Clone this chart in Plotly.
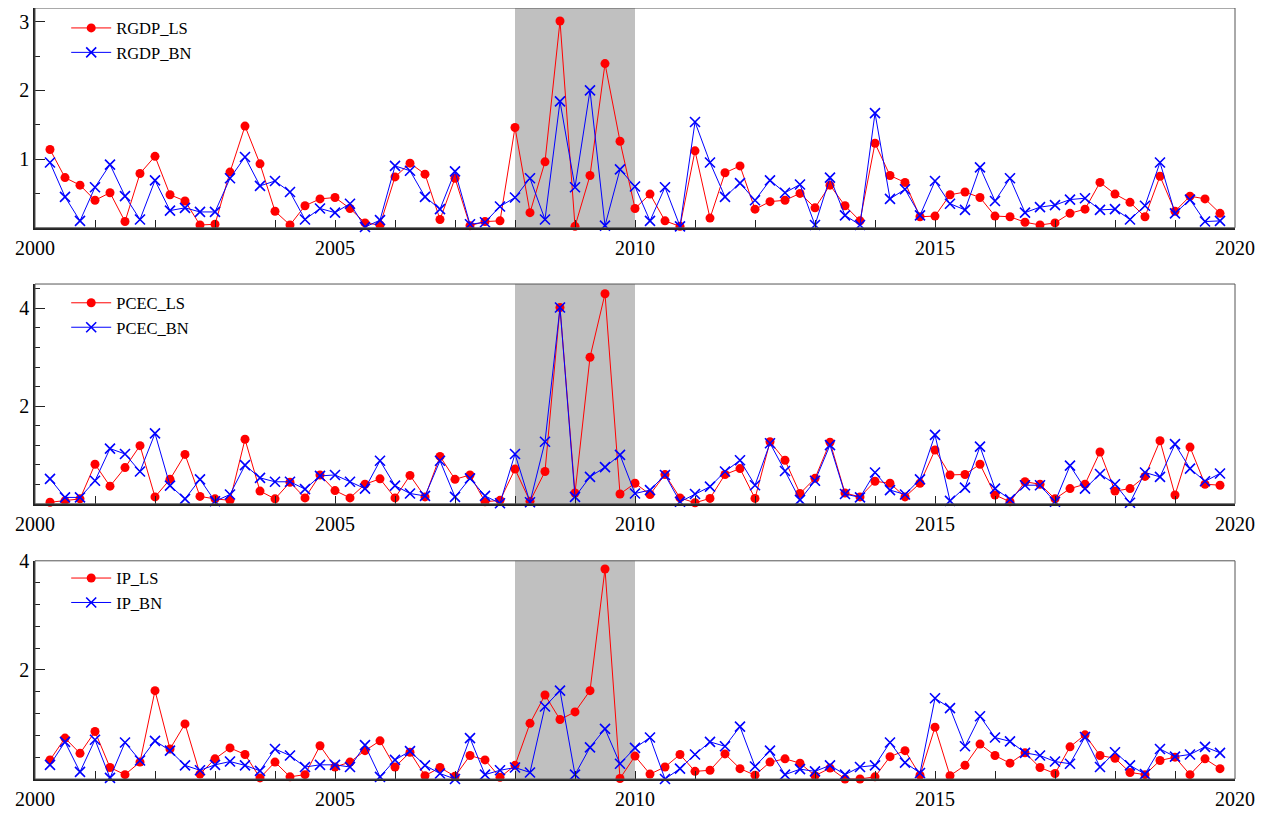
import plotly.graph_objects as go

# Quarterly observations 2000Q2 .. 2019Q4 (decimal-year positions)
quarters = [2000.25 + 0.25 * i for i in range(79)]

RGDP_LS = [1.14,0.73,0.62,0.40,0.51,0.09,0.79,1.04,0.48,0.39,
           0.04,0.05,0.81,1.48,0.93,0.24,0.04,0.32,0.42,0.44,
           0.28,0.07,0.04,0.74,0.94,0.78,0.12,0.72,0.03,0.09,
           0.10,1.46,0.22,0.96,3.01,0.02,0.76,2.39,1.26,0.28,
           0.49,0.10,0.02,1.12,0.14,0.80,0.90,0.27,0.38,0.40,
           0.50,0.29,0.62,0.32,0.10,1.23,0.76,0.66,0.16,0.17,
           0.48,0.52,0.44,0.17,0.16,0.08,0.04,0.07,0.21,0.27,
           0.66,0.49,0.37,0.16,0.75,0.24,0.46,0.42,0.21]
RGDP_BN = [0.95,0.45,0.10,0.59,0.92,0.46,0.12,0.69,0.25,0.29,
           0.23,0.23,0.72,1.03,0.61,0.68,0.52,0.12,0.28,0.22,
           0.35,0.01,0.11,0.90,0.83,0.45,0.27,0.82,0.05,0.08,
           0.31,0.44,0.72,0.12,1.84,0.59,2.00,0.03,0.85,0.60,
           0.10,0.59,0.02,1.54,0.95,0.45,0.65,0.40,0.69,0.51,
           0.63,0.04,0.73,0.18,0.04,1.67,0.42,0.56,0.18,0.68,
           0.35,0.26,0.88,0.39,0.72,0.22,0.30,0.33,0.41,0.43,
           0.26,0.27,0.12,0.32,0.95,0.21,0.41,0.09,0.10]
PCEC_LS = [0.03,0.06,0.10,0.81,0.36,0.74,1.19,0.14,0.50,1.01,
           0.15,0.10,0.07,1.32,0.26,0.10,0.44,0.12,0.59,0.27,
           0.12,0.40,0.51,0.12,0.58,0.14,0.97,0.50,0.59,0.04,
           0.07,0.71,0.05,0.66,4.02,0.22,3.00,4.30,0.20,0.42,
           0.19,0.60,0.12,0.02,0.11,0.60,0.72,0.11,1.27,0.89,
           0.21,0.52,1.26,0.22,0.14,0.46,0.42,0.14,0.42,1.10,
           0.59,0.60,0.81,0.18,0.04,0.45,0.40,0.10,0.31,0.40,
           1.06,0.26,0.31,0.56,1.29,0.18,1.16,0.40,0.38]
PCEC_BN = [0.51,0.13,0.13,0.47,1.13,1.02,0.66,1.44,0.37,0.10,
           0.50,0.05,0.19,0.79,0.53,0.45,0.45,0.30,0.57,0.59,
           0.45,0.31,0.88,0.37,0.21,0.16,0.88,0.14,0.52,0.16,
           0.01,1.02,0.03,1.27,4.02,0.14,0.55,0.75,1.00,0.21,
           0.28,0.59,0.04,0.20,0.35,0.66,0.89,0.38,1.24,0.67,
           0.08,0.47,1.20,0.20,0.13,0.64,0.28,0.19,0.50,1.41,
           0.06,0.33,1.17,0.31,0.09,0.38,0.38,0.04,0.78,0.31,
           0.61,0.40,0.02,0.64,0.55,1.22,0.72,0.46,0.62]
IP_LS = [0.35,0.75,0.47,0.87,0.21,0.08,0.31,1.62,0.55,1.01,
         0.09,0.37,0.57,0.45,0.02,0.31,0.04,0.08,0.61,0.22,
         0.31,0.52,0.70,0.22,0.49,0.06,0.21,0.05,0.43,0.35,
         0.03,0.25,1.02,1.54,1.09,1.23,1.62,3.85,0.01,0.42,
         0.09,0.22,0.45,0.14,0.16,0.46,0.19,0.07,0.31,0.37,
         0.29,0.06,0.20,0.00,0.00,0.04,0.41,0.52,0.07,0.95,
         0.06,0.25,0.64,0.43,0.29,0.48,0.21,0.10,0.59,0.81,
         0.43,0.38,0.12,0.08,0.34,0.40,0.08,0.37,0.19]
IP_BN = [0.26,0.68,0.13,0.72,0.02,0.67,0.34,0.70,0.52,0.25,
         0.16,0.26,0.32,0.25,0.15,0.55,0.43,0.22,0.26,0.26,
         0.22,0.62,0.04,0.35,0.51,0.25,0.10,0.00,0.75,0.08,
         0.16,0.21,0.12,1.33,1.62,0.08,0.58,0.92,0.28,0.57,
         0.76,0.00,0.19,0.45,0.68,0.60,0.96,0.23,0.52,0.08,
         0.18,0.14,0.25,0.08,0.22,0.25,0.67,0.30,0.11,1.48,
         1.30,0.60,1.15,0.76,0.69,0.48,0.43,0.32,0.28,0.77,
         0.22,0.49,0.25,0.09,0.55,0.41,0.45,0.59,0.48]

recession = (2008.0, 2010.0)
x_ticks = [2000, 2005, 2010, 2015, 2020]

panels = [
    dict(ls=RGDP_LS, bn=RGDP_BN, ls_name="RGDP_LS", bn_name="RGDP_BN",
         yrange=[0, 3.2], yticks=[1, 2, 3], yminor=[0.5, 1.5, 2.5],
         domain=[0.715, 1.0], legend_y=0.9965),
    dict(ls=PCEC_LS, bn=PCEC_BN, ls_name="PCEC_LS", bn_name="PCEC_BN",
         yrange=[0, 4.5], yticks=[2, 4],
         yminor=[0.4, 0.8, 1.2, 1.6, 2.4, 2.8, 3.2, 3.6, 4.4],
         domain=[0.357, 0.642], legend_y=0.640),
    dict(ls=IP_LS, bn=IP_BN, ls_name="IP_LS", bn_name="IP_BN",
         yrange=[0, 4.0], yticks=[2, 4],
         yminor=[0.4, 0.8, 1.2, 1.6, 2.4, 2.8, 3.2, 3.6],
         domain=[0.0, 0.283], legend_y=0.283),
]

fig = go.Figure()
# page places the figure 8px in from the top-left corner
layout = dict(
    width=1250, height=801,
    margin=dict(l=27, r=23, t=0, b=30),
    paper_bgcolor="white", plot_bgcolor="white",
    font=dict(family="Liberation Serif", size=20, color="black"),
    shapes=[],
)

for i, p in enumerate(panels):
    n = i + 1
    xa = "x" if n == 1 else f"x{n}"
    ya = "y" if n == 1 else f"y{n}"
    leg = "legend" if n == 1 else f"legend{n}"
    fig.add_trace(go.Scatter(
        x=quarters, y=p["ls"], name=p["ls_name"], mode="lines+markers",
        line=dict(color="#ff0000", width=1),
        marker=dict(color="#ff0000", size=9, symbol="circle"),
        xaxis=xa, yaxis=ya, legend=leg, cliponaxis=False))
    fig.add_trace(go.Scatter(
        x=quarters, y=p["bn"], name=p["bn_name"], mode="lines+markers",
        line=dict(color="#0000ff", width=1),
        marker=dict(color="#0000ff", size=10, symbol="x-thin-open",
                    line=dict(color="#0000ff", width=1.6)),
        xaxis=xa, yaxis=ya, legend=leg, cliponaxis=False))

    xkey = "xaxis" if n == 1 else f"xaxis{n}"
    ykey = "yaxis" if n == 1 else f"yaxis{n}"
    layout[xkey] = dict(
        domain=[0, 1], anchor=ya, range=[2000, 2020], automargin=False,
        tickvals=x_ticks, ticks="inside", ticklen=8, tickwidth=1, tickcolor="#222",
        minor=dict(dtick=1, tick0=2000, ticks="inside", ticklen=8, tickwidth=1, tickcolor="#222"),
        showline=True, linecolor="#222", linewidth=2,
        showgrid=False, zeroline=False, ticklabelstandoff=1,
        tickfont=dict(size=20))
    layout[ykey] = dict(
        domain=p["domain"], anchor=xa, range=p["yrange"], automargin=False,
        tickvals=p["yticks"], ticks="inside", ticklen=10, tickwidth=1, tickcolor="#222",
        minor=dict(tickvals=p["yminor"], ticks="inside", ticklen=5, tickwidth=1, tickcolor="#222"),
        showline=True, linecolor="#222", linewidth=1.5,
        showgrid=False, zeroline=False,
        tickfont=dict(size=20))
    layout[leg] = dict(
        x=0.026, y=p["legend_y"], xanchor="left", yanchor="top",
        bgcolor="rgba(0,0,0,0)", font=dict(size=16.5, family="Liberation Serif"),
        itemwidth=40, tracegroupgap=0)
    layout["shapes"].append(dict(
        type="rect", xref=xa, yref=f"{ya} domain", x0=recession[0], x1=recession[1],
        y0=0, y1=1, fillcolor="#c0c0c0", line=dict(width=0), layer="below"))
    layout["shapes"].append(dict(
        type="rect", xref=f"{xa} domain", yref=f"{ya} domain", x0=0, x1=1,
        y0=0, y1=1, line=dict(color="#555", width=1), layer="above"))

fig.update_layout(**layout)
fig.write_html("out.html")
